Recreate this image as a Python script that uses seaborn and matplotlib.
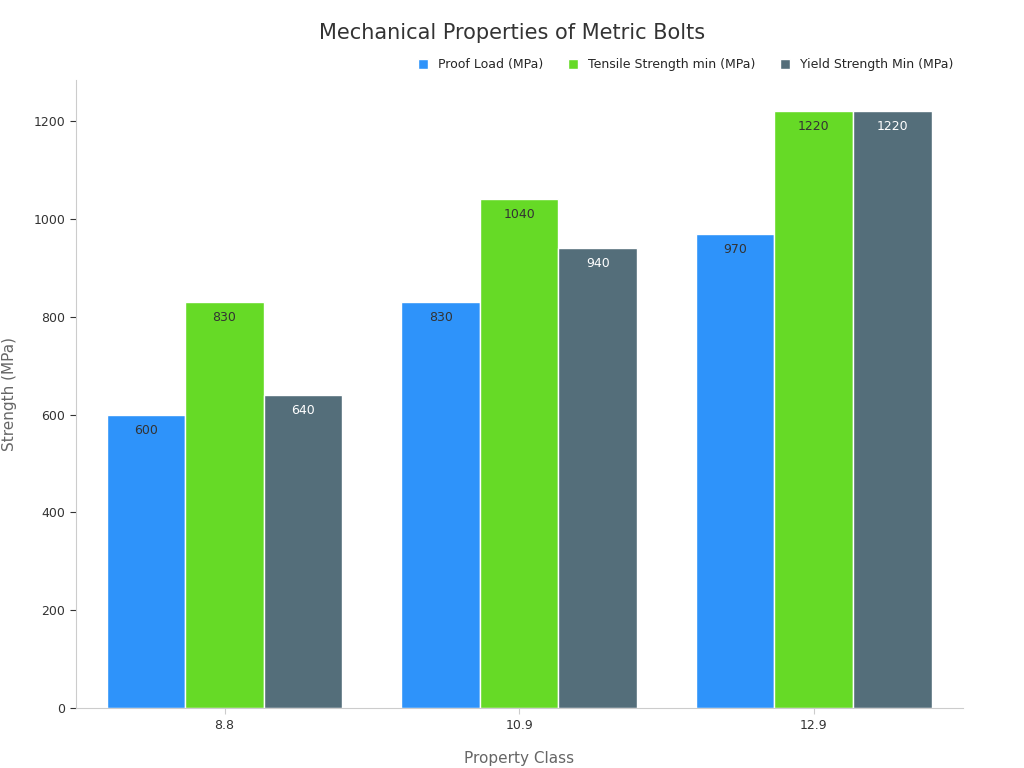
import matplotlib
matplotlib.use("Agg")
import matplotlib.pyplot as plt
import seaborn as sns
import pandas as pd

classes = ["8.8", "10.9", "12.9"]
series = ["Proof Load (MPa)", "Tensile Strength min (MPa)", "Yield Strength Min (MPa)"]
proof_load = [600, 830, 970]
tensile = [830, 1040, 1220]
yield_strength = [640, 940, 1220]
colors = ["#2E93FA", "#66DA26", "#546E7A"]
label_colors = ["#333333", "#333333", "white"]

rows = []
for name, vals in zip(series, [proof_load, tensile, yield_strength]):
    for c, v in zip(classes, vals):
        rows.append({"Property Class": c, "series": name, "value": v})
df = pd.DataFrame(rows)

sns.set_style("white")
plt.rcParams['font.family'] = ['DejaVu Sans']
fig, ax = plt.subplots(figsize=(10.24, 7.68), dpi=100)
fig.subplots_adjust(left=0.074, right=0.94, top=0.896, bottom=0.078)

sns.barplot(data=df, x="Property Class", y="value", hue="series", palette=colors,
            width=0.8, edgecolor="white", linewidth=1, saturation=1, ax=ax)

for cont, tc in zip(ax.containers, label_colors):
    ax.bar_label(cont, padding=-16, color=tc, fontsize=9)

ax.set_ylim(0, 1284)
ax.set_xlim(-0.505, 2.505)
ax.set_yticks(range(0, 1201, 200))
ax.tick_params(labelsize=9, colors="#333333", length=4)
ax.tick_params(axis="y", left=True, color="#333333")
ax.tick_params(axis="x", bottom=True, color="#cccccc")
ax.set_xlabel("Property Class", fontsize=11, color="#666666", labelpad=14)
ax.set_ylabel("Strength (MPa)", fontsize=11, color="#666666", labelpad=12)
for s in ["top", "right"]:
    ax.spines[s].set_visible(False)
for s in ["left", "bottom"]:
    ax.spines[s].set_color("#cccccc")

fig.suptitle("Mechanical Properties of Metric Bolts", x=0.5, y=0.97, fontsize=15, color="#333333")
ax.legend(loc="lower right", bbox_to_anchor=(1.0, 1.0), ncol=3, frameon=False, fontsize=9,
          handlelength=0.8, handleheight=0.8, columnspacing=2.0, borderaxespad=0.3)

fig.savefig("out.png", dpi=100)
